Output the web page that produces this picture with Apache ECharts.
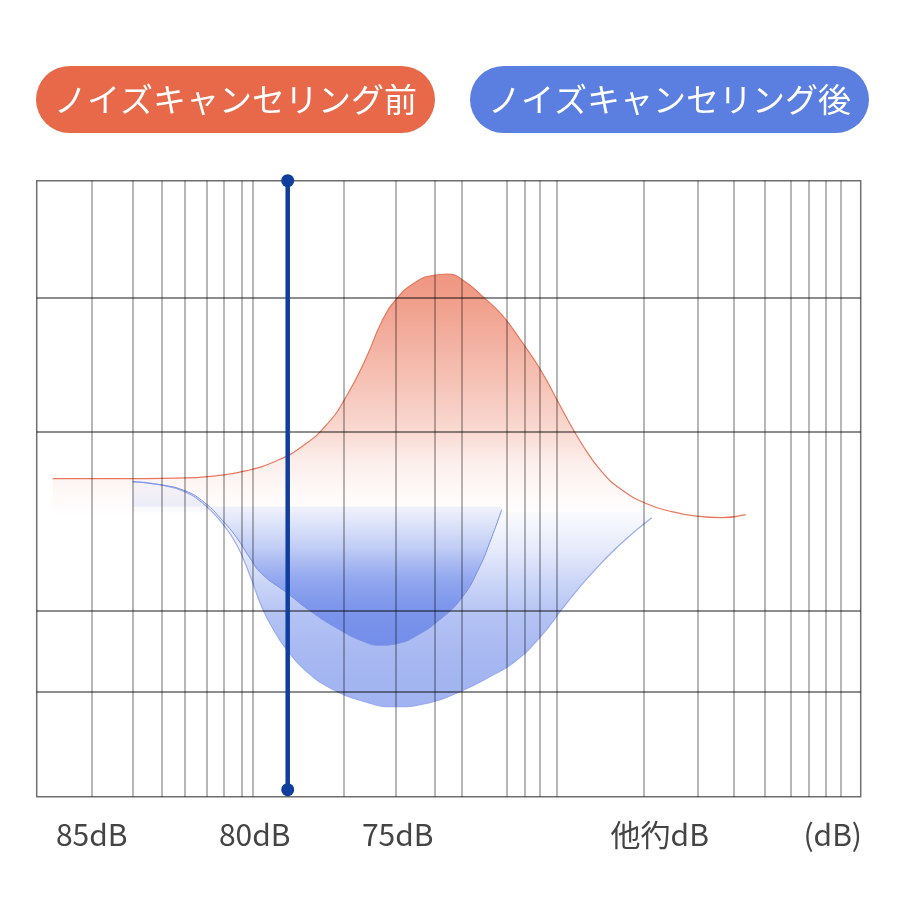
<!DOCTYPE html>
<html>
<head>
<meta charset="utf-8">
<script src="https://cdn.jsdelivr.net/npm/echarts@6/dist/echarts.min.js"></script>
<style>
html,body{margin:0;padding:0;background:#ffffff;}
#chart{width:900px;height:900px;}
</style>
</head>
<body>
<div id="chart"></div>
<script>
// ---- data ----
const seriesNames = ['ノイズキャンセリング前', 'ノイズキャンセリング後'];

// x / y in chart units (x: 0..824 across the plot, y: 0..616 bottom to top)
const beforeCurve = [
  [16,318],[80,318],[140,318.5],[180,321],[210,326],[240,336],[265,350],[290,372],
  [310,401],[330,440],[345,475],[360,498],[378,514],[395,521],[411,522.5],[427,516],
  [445,501],[465,482],[485,455],[505,425],[525,388],[545,353],[565,325],[585,307],
  [610,293],[635,285],[660,280.5],[685,279],[709,282]
];
const afterOuterCurve = [
  [96,315],[123,312],[148,305],[168,292],[185,274],[200,252],[213,222],[225,190],
  [238,165],[250,147],[268,127],[293,109],[328,95],[358,90],[393,94],[423,105],
  [453,120],[478,135],[503,159],[528,191],[553,221],[583,252],[615,279]
];
const afterInnerCurve = [
  [96,315],[123,312],[148,306],[168,294],[185,277],[200,259],[213,239],[225,223],
  [250,204],[276,184],[303,167],[325,156],[343,151.5],[362,153.5],[378,160],[403,177],
  [426,200],[443,230],[453,254],[465,287]
];
const markerLine = [[251,616],[251,7]];

const verticalGrid = [55,95.6,125.3,148.3,170.3,187.3,205.3,216.3,251,307,359.3,398.3,
  425,470,488,503.3,520.3,606.6,660.6,697.3,728.3,754.3,772.3,789.3,804];
const horizontalGrid = [105,185.7,365,499.4];

const xLabelPos = [55,218,361,623,796];
const xLabels = ['85dB','80dB','75dB','他彴dB','(dB)'];

// ---- chart ----
const FONT = '"Noto Sans CJK JP","Noto Sans",sans-serif';
const chart = echarts.init(document.getElementById('chart'), null, {renderer:'canvas'});

function grad(rgb, stops){
  return new echarts.graphic.LinearGradient(0,0,0,1,
    stops.map(s => ({offset:s[0], color:'rgba(' + rgb + ',' + s[1] + ')'})));
}
function pill(bg){
  return {color:'#ffffff', backgroundColor:bg, borderRadius:34, fontSize:33,
          lineHeight:37, padding:[15,18,15,18], fontFamily:FONT};
}

const option = {
  backgroundColor:'#ffffff',
  animation:false,
  legend:{
    top:66, left:'center', padding:0, itemGap:30, itemWidth:0, itemHeight:0,
    selectedMode:false,
    data:[
      {name:seriesNames[0], icon:'none', textStyle:pill('#e8694a')},
      {name:seriesNames[1], icon:'none', textStyle:pill('#5b7fe0')}
    ]
  },
  grid:{left:36.7, right:39.3, top:180.7, bottom:103.3, show:true,
        borderColor:'#6e6e6e', borderWidth:1.5, backgroundColor:'transparent'},
  xAxis:{
    type:'value', min:0, max:824,
    axisLine:{show:false}, axisTick:{show:false}, splitLine:{show:false},
    axisLabel:{
      customValues:xLabelPos, margin:23, color:'#444444', fontSize:30, fontFamily:FONT,
      formatter:function(v){
        let best=0, d=1e9;
        xLabelPos.forEach((p,i)=>{ if(Math.abs(p-v)<d){d=Math.abs(p-v);best=i;} });
        return xLabels[best];
      }
    }
  },
  yAxis:{
    type:'value', min:0, max:616,
    axisLine:{show:false}, axisTick:{show:false}, splitLine:{show:false}, axisLabel:{show:false}
  },
  series:[
    {
      name:seriesNames[0], type:'line', smooth:true, data:beforeCurve,
      showSymbol:false, z:2,
      lineStyle:{color:'#e8785c', width:1.2},
      areaStyle:{origin:278, color:grad('232,105,74',
        [[0,1],[0.1,0.92],[0.3,0.72],[0.49,0.52],[0.65,0.35],[0.76,0.17],[0.9,0.05],[1,0]])}
    },
    {
      name:seriesNames[1], type:'line', smooth:true, data:afterOuterCurve,
      showSymbol:false, z:3,
      lineStyle:{color:'#9aacf0', width:1.2},
      areaStyle:{origin:285, color:grad('91,123,230',
        [[0,0],[0.15,0.05],[0.3,0.22],[0.45,0.46],[0.6,0.66],[0.8,0.78],[1,0.82]])}
    },
    {
      name:seriesNames[1], type:'line', smooth:true, data:afterInnerCurve,
      showSymbol:false, z:4,
      lineStyle:{color:'#7890e8', width:1},
      areaStyle:{origin:290, color:grad('91,123,230',
        [[0,0.05],[0.2,0.16],[0.4,0.38],[0.6,0.74],[0.75,0.9],[1,1]])}
    },
    {
      name:'vgrid', type:'line', data:[], silent:true,
      markLine:{silent:true, symbol:'none', label:{show:false}, animation:false,
        lineStyle:{color:'rgba(0,0,0,0.38)', width:1.5, type:'solid'},
        data:verticalGrid.map(v=>({xAxis:v}))}
    },
    {
      name:'hgrid', type:'line', data:[], silent:true,
      markLine:{silent:true, symbol:'none', label:{show:false}, animation:false,
        lineStyle:{color:'rgba(0,0,0,0.6)', width:1.5, type:'solid'},
        data:horizontalGrid.map(v=>({yAxis:v}))}
    },
    {
      name:'marker', type:'line', data:markerLine, z:10, clip:false, silent:true,
      symbol:'circle', symbolSize:13, showSymbol:true,
      itemStyle:{color:'#0f3e9e'}, lineStyle:{color:'#0f3e9e', width:4.5}
    }
  ]
};
chart.setOption(option);
</script>
</body>
</html>
